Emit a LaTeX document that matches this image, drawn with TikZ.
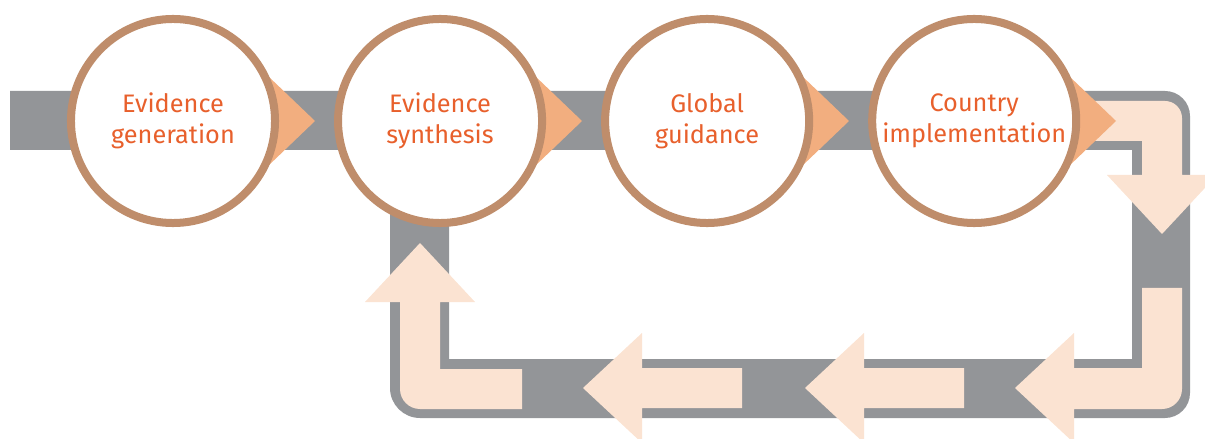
\documentclass[tikz,border=0pt]{standalone}
\usepackage{fontspec}
\setmainfont{Fira Sans}
\usetikzlibrary{positioning}

\definecolor{bandgray}{HTML}{939598}
\definecolor{ringbrown}{HTML}{BF8D6B}
\definecolor{labelorange}{HTML}{E8602C}
\definecolor{tipsalmon}{HTML}{F2AE7F}
\definecolor{peach}{HTML}{FBE3D2}

\begin{document}
\begin{tikzpicture}[x=0.025cm, y=0.025cm,
    stage/.style={circle, draw=ringbrown, line width=0.2cm, fill=white,
      minimum size=5.1cm, inner sep=0pt, align=center, text=labelorange,
      font=\fontsize{18}{22}\selectfont,
      execute at begin node={\rule{0pt}{21.5pt}}},
    pointer/.style={fill=tipsalmon},
    flow/.style={fill=peach}]
  \useasboundingbox (0,0) rectangle (1205,-439);

  % grey track: top band, right side, bottom run and the way back up
  \fill[bandgray] (10,-91) -- (1165,-91) arc[start angle=90, end angle=0, radius=25]
    -- (1190,-393) arc[start angle=0, end angle=-90, radius=25]
    -- (420,-418) arc[start angle=270, end angle=180, radius=30]
    -- (390,-200) -- (449,-200) -- (449,-359) -- (1132,-359) -- (1132,-150)
    -- (10,-150) -- cycle;

  % light arrows inside the track
  \fill[flow] (1080,-101) -- (1165,-101) arc[start angle=90, end angle=0, radius=17]
    -- (1182,-175) -- (1217,-175) -- (1162,-234) -- (1107,-175) -- (1142,-175)
    -- (1142,-141) -- (1080,-141) -- cycle;
  \fill[flow] (1142,-288) -- (1182,-288) -- (1182,-389) arc[start angle=0, end angle=-90, radius=20]
    -- (1074,-409) -- (1074,-443) -- (1015,-388) -- (1074,-333) -- (1074,-368)
    -- (1142,-368) -- cycle;
  \foreach \tipx/\tailx in {583/742, 805/964}
    \fill[flow] (\tipx,-388) -- (\tipx+59,-333) -- (\tipx+59,-368) -- (\tailx,-368)
      -- (\tailx,-408) -- (\tipx+59,-408) -- (\tipx+59,-443) -- cycle;
  \fill[flow] (522,-369) -- (522,-409) -- (420,-409) arc[start angle=270, end angle=180, radius=20]
    -- (400,-302) -- (365,-302) -- (420,-243) -- (475,-302) -- (440,-302)
    -- (440,-369) -- cycle;

  % small pointers coming out of each circle
  \foreach \cx in {173,440,707,974}
    \fill[pointer] (\cx+95,-76) -- (\cx+142,-121) -- (\cx+95,-166) -- cycle;

  \node[stage] (gen) at (173,-121) {Evidence\\generation};
  \node[stage, right=1.375cm of gen] (synth) {Evidence\\synthesis};
  \node[stage, right=1.375cm of synth] (guide) {Global\\guidance};
  \node[stage, right=1.375cm of guide] (impl) {Country\\implementation};
\end{tikzpicture}
\end{document}
